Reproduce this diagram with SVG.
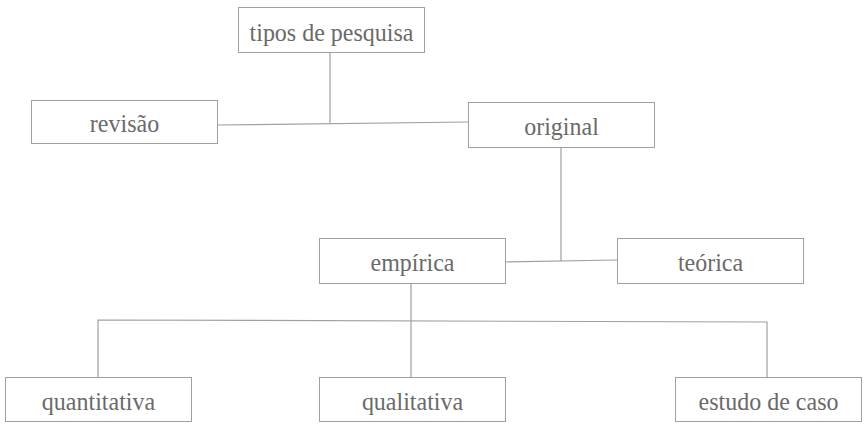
<svg xmlns="http://www.w3.org/2000/svg" width="865" height="427" viewBox="0 0 865 427">
<style>
.box{fill:#fff;stroke:#a0a0a0;stroke-width:1}
.lbl{font-family:"Liberation Serif","Times New Roman",serif;font-size:24px;fill:#6a6a6a;text-anchor:middle}
.con{stroke:#a0a0a0;stroke-width:1.2;fill:none}
</style>
<rect width="865" height="427" fill="#fff"/>
<g id="connectors">
<line class="con" x1="330" y1="52" x2="330" y2="123"/>
<line class="con" x1="217" y1="125" x2="468" y2="122"/>
<line class="con" x1="561" y1="147" x2="561" y2="261"/>
<line class="con" x1="505" y1="262" x2="617" y2="260"/>
<line class="con" x1="411" y1="283" x2="411" y2="377"/>
<polyline class="con" points="98,377 98,320 767,322 767,377"/>
</g>
<g id="n-tipos"><rect class="box" x="238.5" y="7.5" width="186" height="45"/><text class="lbl" transform="translate(331.5,40.5) scale(1,1.08)">tipos de pesquisa</text></g>
<g id="n-revisao"><rect class="box" x="31.5" y="100.5" width="186" height="43"/><text class="lbl" transform="translate(124.5,132) scale(1,1.08)">revisão</text></g>
<g id="n-original"><rect class="box" x="468.5" y="102.5" width="186" height="45"/><text class="lbl" transform="translate(561.5,135) scale(1,1.08)">original</text></g>
<g id="n-empirica"><rect class="box" x="319.5" y="238.5" width="186" height="45"/><text class="lbl" transform="translate(412.5,271) scale(1,1.08)">empírica</text></g>
<g id="n-teorica"><rect class="box" x="617.5" y="238.5" width="186" height="45"/><text class="lbl" transform="translate(710.5,271) scale(1,1.08)">teórica</text></g>
<g id="n-quantitativa"><rect class="box" x="5.5" y="377.5" width="186" height="44"/><text class="lbl" transform="translate(98.5,409.5) scale(1,1.08)">quantitativa</text></g>
<g id="n-qualitativa"><rect class="box" x="319.5" y="377.5" width="186" height="44"/><text class="lbl" transform="translate(412.5,409.5) scale(1,1.08)">qualitativa</text></g>
<g id="n-estudo"><rect class="box" x="675.5" y="377.5" width="186" height="44"/><text class="lbl" transform="translate(768.5,409.5) scale(1,1.08)">estudo de caso</text></g>
</svg>
